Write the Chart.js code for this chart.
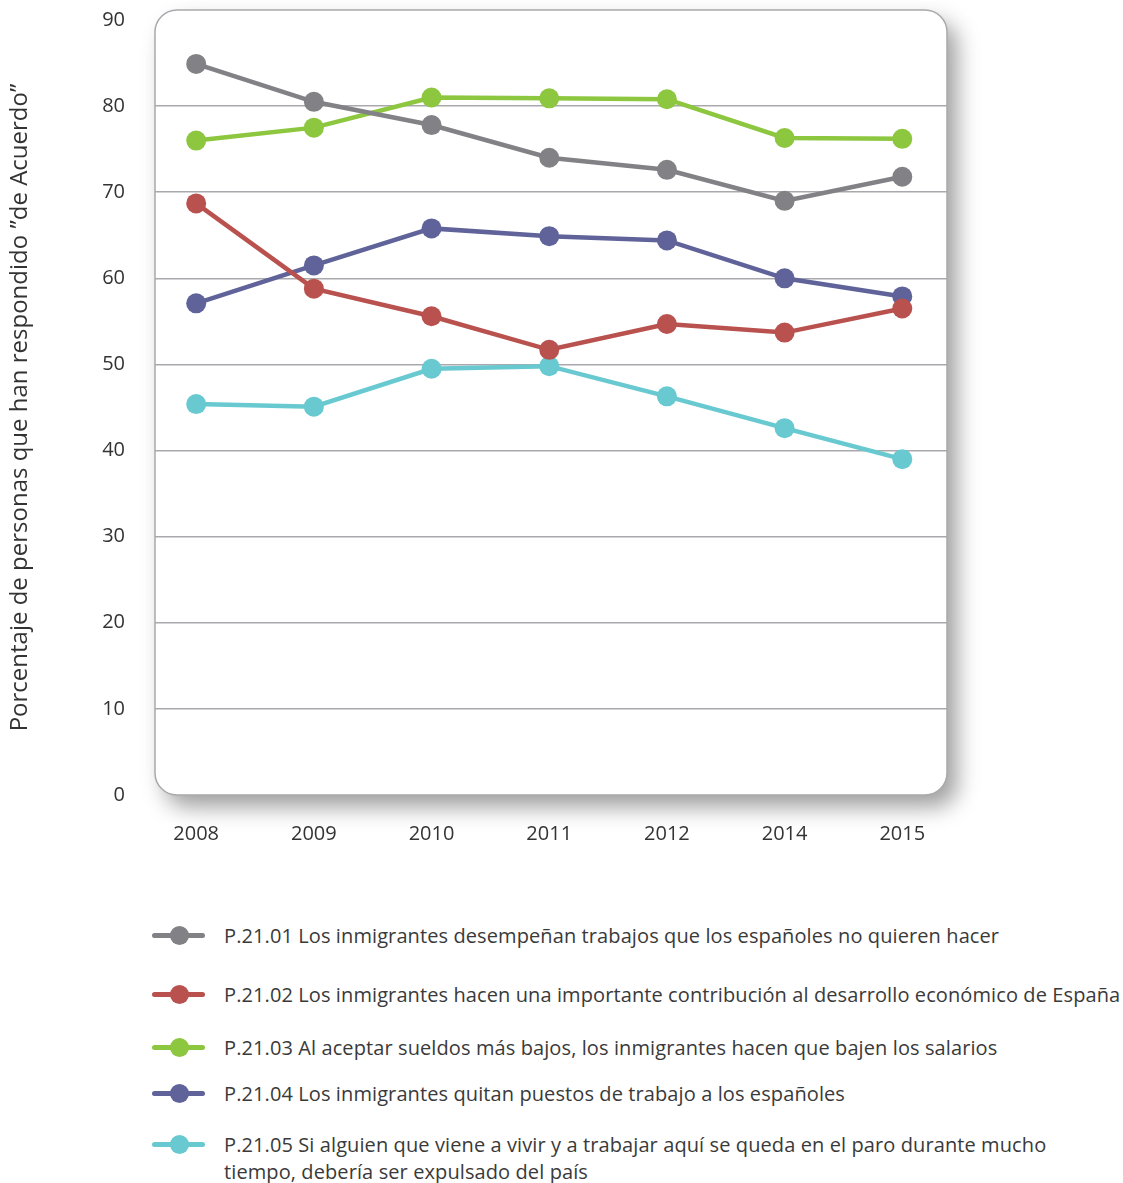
<!DOCTYPE html>
<html>
<head>
<meta charset="utf-8">
<script src="https://cdn.jsdelivr.net/npm/chart.js@4.4.1/dist/chart.umd.min.js"></script>
<style>
  html, body { margin: 0; padding: 0; background: #fff; }
  body { width: 1123px; height: 1183px; position: relative; overflow: hidden; font-family: "Open Sans", Lato, sans-serif; }
  #wrap { position: absolute; left: 0; top: 0; width: 1123px; height: 860px; }
  #legend { position: absolute; left: 150px; top: 0; width: 980px; }
  .item { position: absolute; left: 0; white-space: nowrap; font-size: 20px; letter-spacing: 0.1px; color: #3a3a3a; line-height: 27px; }
  .mark { position: absolute; left: 2px; top: 11px; width: 53px; height: 5px; border-radius: 3px; }
  .dot { position: absolute; left: 18px; top: -7px; width: 19px; height: 19px; border-radius: 50%; }
  .txt { position: absolute; left: 74px; top: 0; }
</style>
</head>
<body>
<div id="wrap"><canvas id="chart" width="1123" height="860"></canvas></div>
<div id="legend"></div>
<script>
(function () {
  "use strict";

  var years = ["2008", "2009", "2010", "2011", "2012", "2014", "2015"];
  var yTicks = [0, 10, 20, 30, 40, 50, 60, 70, 80, 90];

  var p2101 = [84.9, 80.5, 77.8, 74.0, 72.6, 69.0, 71.8];
  var p2102 = [68.7, 58.8, 55.6, 51.7, 54.7, 53.7, 56.5];
  var p2103 = [76.0, 77.5, 81.0, 80.9, 80.8, 76.3, 76.2];
  var p2104 = [57.1, 61.5, 65.8, 64.9, 64.4, 60.0, 57.9];
  var p2105 = [45.4, 45.1, 49.5, 49.8, 46.3, 42.6, 39.0];

  var seriesNames = [
    "P.21.01 Los inmigrantes desempeñan trabajos que los españoles no quieren hacer",
    "P.21.02 Los inmigrantes hacen una importante contribución al desarrollo económico de España",
    "P.21.03 Al aceptar sueldos más bajos, los inmigrantes hacen que bajen los salarios",
    "P.21.04 Los inmigrantes quitan puestos de trabajo a los españoles",
    "P.21.05 Si alguien que viene a vivir y a trabajar aquí se queda en el paro durante mucho\ntiempo, debería ser expulsado del país"
  ];
  var seriesValues = [p2101, p2102, p2103, p2104, p2105];
  var seriesColors = ["#828286", "#b9514e", "#8dc63f", "#5f6399", "#68c9d0"];
  var legendTops = [922, 981, 1034, 1080, 1131];

  function toPoints(values) {
    return values.map(function (v, i) {
      return { x: i, y: v };
    });
  }

  var datasets = seriesValues.map(function (values, i) {
    return {
      label: seriesNames[i],
      data: toPoints(values),
      borderColor: seriesColors[i],
      backgroundColor: seriesColors[i],
      borderWidth: 4.5,
      pointRadius: 10,
      pointHoverRadius: 10,
      pointBorderWidth: 0,
      tension: 0
    };
  });

  function panelPath(ctx, a) {
    ctx.beginPath();
    ctx.roundRect(a.left, a.top - 10, a.right - a.left, a.bottom - a.top + 10, 22);
  }

  // rounded white panel with soft shadow behind the plot
  var panelPlugin = {
    id: "panel",
    beforeDraw: function (chart) {
      var ctx = chart.ctx;
      ctx.save();
      panelPath(ctx, chart.chartArea);
      ctx.shadowColor = "rgba(0, 0, 0, 0.38)";
      ctx.shadowBlur = 22;
      ctx.shadowOffsetX = 10;
      ctx.shadowOffsetY = 12;
      ctx.fillStyle = "#ffffff";
      ctx.fill();
      ctx.restore();
    },
    beforeDatasetsDraw: function (chart) {
      var ctx = chart.ctx;
      ctx.save();
      panelPath(ctx, chart.chartArea);
      ctx.lineWidth = 1.5;
      ctx.strokeStyle = "#a9a9ad";
      ctx.stroke();
      ctx.restore();
    }
  };

  var ctx = document.getElementById("chart").getContext("2d");
  new Chart(ctx, {
    type: "line",
    data: { datasets: datasets },
    plugins: [panelPlugin],
    options: {
      responsive: false,
      animation: false,
      events: [],
      layout: { padding: { top: 20, right: 176, left: 0, bottom: 0 } },
      plugins: {
        legend: { display: false },
        tooltip: { enabled: false }
      },
      scales: {
        x: {
          type: "linear",
          min: -0.35,
          max: 6.38,
          afterFit: function (scale) { scale.height = 65; },
          afterBuildTicks: function (scale) {
            scale.ticks = years.map(function (y, i) { return { value: i }; });
          },
          ticks: {
            padding: 19,
            font: { family: "Open Sans", size: 20 },
            color: "#333",
            callback: function (value) { return years[value]; }
          },
          grid: { display: false },
          border: { display: false }
        },
        y: {
          min: 0,
          max: 90,
          afterFit: function (scale) {
            scale.width = 155;
            scale.paddingTop = 10;
            scale.paddingBottom = 10;
          },
          afterBuildTicks: function (scale) {
            scale.ticks = yTicks.map(function (v) { return { value: v }; });
          },
          ticks: {
            padding: 30,
            font: { family: "Open Sans", size: 20 },
            color: "#333"
          },
          grid: {
            drawTicks: false,
            lineWidth: 1.5,
            color: function (c) {
              if (c.tick && (c.tick.value === 90 || c.tick.value === 0)) return "rgba(0,0,0,0)";
              return "#a9a9ad";
            }
          },
          border: { display: false },
          title: {
            display: true,
            text: "Porcentaje de personas que han respondido ”de Acuerdo”",
            font: { family: "Open Sans", size: 24 },
            color: "#333",
            padding: { top: 6, bottom: 0 }
          }
        }
      }
    }
  });

  var legend = document.getElementById("legend");
  seriesNames.forEach(function (name, i) {
    var item = document.createElement("div");
    item.className = "item";
    item.style.top = legendTops[i] + "px";
    var mark = document.createElement("div");
    mark.className = "mark";
    mark.style.background = seriesColors[i];
    var dot = document.createElement("div");
    dot.className = "dot";
    dot.style.background = seriesColors[i];
    mark.appendChild(dot);
    var txt = document.createElement("div");
    txt.className = "txt";
    name.split("\n").forEach(function (line, k) {
      if (k > 0) txt.appendChild(document.createElement("br"));
      txt.appendChild(document.createTextNode(line));
    });
    item.appendChild(mark);
    item.appendChild(txt);
    legend.appendChild(item);
  });
})();
</script>
</body>
</html>
